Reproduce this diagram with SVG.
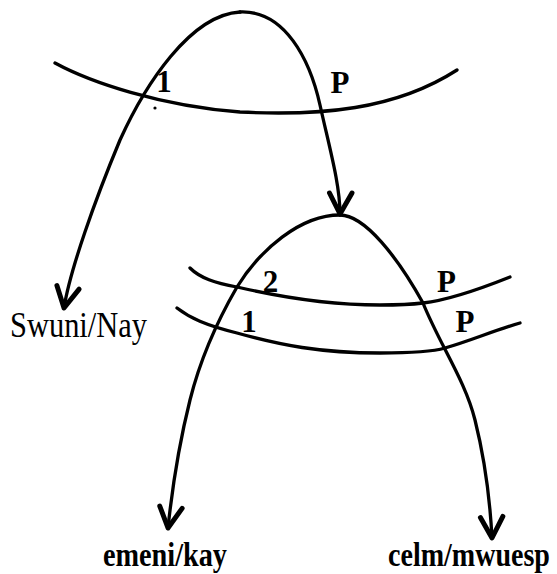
<svg xmlns="http://www.w3.org/2000/svg" width="557" height="574" viewBox="0 0 557 574">
<style>
.ln{fill:none;stroke:#000;stroke-width:3.3;stroke-linecap:round;stroke-linejoin:round}
.arr{marker-end:url(#ah)}
.lbl{font-family:"Liberation Serif","Times New Roman",serif;font-weight:bold;font-size:31px;fill:#000;text-anchor:middle}
.nm{font-family:"Liberation Serif","Times New Roman",serif;fill:#000}
</style>
<defs>
<marker id="ah" markerUnits="userSpaceOnUse" markerWidth="30" markerHeight="30" refX="0" refY="0" viewBox="-16 -10 20 20" orient="auto" overflow="visible">
<path d="M-14,-8 L0,0 L-14,7" fill="none" stroke="#000" stroke-width="3.3" stroke-linecap="round" stroke-linejoin="round"/>
</marker>
</defs>
<rect width="557" height="574" fill="#fff"/>
<g id="boundaries">
<path class="ln" d="M55,63 C90,82 160,106 240,112 C320,116 395,110 457,70"/>
<path class="ln" d="M190,268 C200,278 215,283 237,287 C280,297 330,305 380,305 C400,305 415,304 423,303 C450,300 485,287 510,277"/>
<path class="ln" d="M177,308 C190,318 205,325 237,333 C280,345 320,353 380,353 C410,353 435,351 445,348 C470,341 495,330 520,323"/>
<circle cx="155" cy="108" r="1.6" fill="#000"/>
</g>
<g id="connectors">
<path class="ln arr" d="M240,12 C190,15 145,85 120,140 C95,200 70,270 64,308"/>
<path class="ln arr" d="M240,12 C285,10 310,60 320,105 C330,150 340,185 340,214"/>
<path class="ln arr" d="M340,215 C300,215 260,250 237,287 C215,325 200,360 190,400 C180,440 172,490 168,528"/>
<path class="ln arr" d="M340,215 C365,215 398,258 423,303 C440,345 465,380 475,420 C485,460 490,500 492,538"/>
</g>
<g id="labels">
<text class="lbl" x="164" y="92">1</text>
<text class="lbl" x="340" y="93">P</text>
<text class="lbl" x="270.5" y="292">2</text>
<text class="lbl" x="446.5" y="292">P</text>
<text class="lbl" x="249" y="332">1</text>
<text class="lbl" x="465" y="332">P</text>
</g>
<g id="node-swuni-nay">
<text class="nm" x="10" y="337" font-size="35" textLength="137" lengthAdjust="spacingAndGlyphs">Swuni/Nay</text>
</g>
<g id="node-emeni-kay">
<text class="nm" x="103" y="566" font-size="33" font-weight="bold" textLength="124" lengthAdjust="spacingAndGlyphs">emeni/kay</text>
</g>
<g id="node-celm-mwuesp">
<text class="nm" transform="translate(388,566) scale(0.85,1)" x="0" y="0" font-size="33" font-weight="bold">celm/mwuesp</text>
</g>
</svg>
